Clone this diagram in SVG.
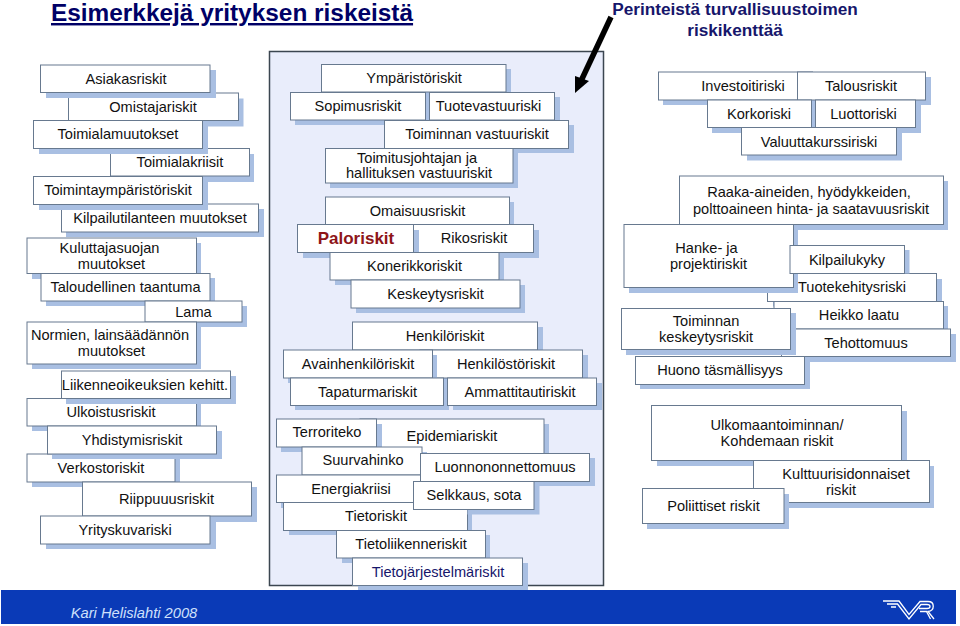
<svg xmlns="http://www.w3.org/2000/svg" width="960" height="626" viewBox="0 0 960 626">
<defs>
<g id="logo" fill="none" stroke="#fff" stroke-width="1.300">
<path d="M0,0.500 H16 L26,14 L37,1 H45 C52,1 52,10 45,11 L51,18.500"/>
<path d="M4,3.500 H14.500 L26,18.500 L38,4 H44 C48,4 48,8 44,8 H36"/>
<path d="M8,6.500 H13 M37,11 H43.500 L47.500,18.500"/>
</g>
</defs>
<style>
text{font-family:"Liberation Sans",Arial,sans-serif;font-size:14.600px;fill:#111;text-anchor:middle}
.s{fill:#a9bfe2}
.b{fill:#fff;stroke:#67798f;stroke-width:1}
.t{font-weight:bold;fill:#000066;font-size:24.400px;text-anchor:start;text-decoration:underline}
.h{font-weight:bold;fill:#16166b;font-size:17.200px}
</style>
<rect width="960" height="626" fill="#fff"/>
<text class="t" x="51" y="21">Esimerkkejä yrityksen riskeistä</text>
<text class="h" x="735" y="15">Perinteistä turvallisuustoimen</text>
<text class="h" x="735" y="36">riskikenttää</text>
<rect id="panel" x="269.500" y="51.500" width="334" height="534" fill="#e9edfb" stroke="#3b4650" stroke-width="1.500"/>
<g id="connectors"><path d="M611,17 L581,81" stroke="#000" stroke-width="5.500" fill="none"/><path d="M575,93 L575,76 L589,81 Z" fill="#000"/></g>
<rect id="footer" x="1" y="590" width="955" height="34" fill="#0a3ab7"/>
<text x="134" y="618" style="font-style:italic;fill:#cfe0fb;font-size:14.700px">Kari Helislahti 2008</text>
<use href="#logo" x="883" y="600.500"/>

<g id="n2"><rect class="s" x="73.500" y="98.500" width="170" height="28"/><rect class="b" x="68.500" y="93" width="170" height="27.500"/><text x="153" y="112">Omistajariskit</text></g>
<g id="n1"><rect class="s" x="46" y="70" width="170" height="28"/><rect class="b" x="40.500" y="65" width="169.500" height="27.500"/><text x="126" y="84">Asiakasriskit</text></g>
<g id="n4"><rect class="s" x="115" y="154" width="139" height="28"/><rect class="b" x="110.500" y="148.500" width="139" height="27.500"/><text x="180" y="167">Toimialakriisit</text></g>
<g id="n3"><rect class="s" x="39" y="126" width="169" height="28"/><rect class="b" x="33.500" y="120.500" width="169" height="28"/><text x="118" y="139">Toimialamuutokset</text></g>
<g id="n6"><rect class="s" x="66" y="209" width="198" height="28"/><rect class="b" x="61.500" y="204" width="197" height="28"/><text x="160" y="223">Kilpailutilanteen muutokset</text></g>
<g id="n5"><rect class="s" x="39" y="182" width="169" height="28"/><rect class="b" x="33.500" y="176.500" width="169" height="28"/><text x="118" y="195">Toimintaympäristöriskit</text></g>
<g id="n7"><rect class="s" x="32" y="243" width="169" height="36"/><rect class="b" x="27" y="238" width="169.500" height="35.500"/><text x="109.500" y="253">Kuluttajasuojan</text><text x="111.500" y="269">muutokset</text></g>
<g id="n8"><rect class="s" x="46" y="278" width="169" height="28"/><rect class="b" x="41" y="273.500" width="169" height="27.500"/><text x="125.500" y="292">Taloudellinen taantuma</text></g>
<g id="n9"><rect class="s" x="150" y="306" width="97" height="21"/><rect class="b" x="145" y="301" width="97" height="21"/><text x="193.500" y="317">Lama</text></g>
<g id="n10"><rect class="s" x="32" y="327" width="169" height="42"/><rect class="b" x="27" y="322" width="169.500" height="42"/><text x="110" y="340">Normien, lainsäädännön</text><text x="111.500" y="356">muutokset</text></g>
<g id="n12"><rect class="s" x="32" y="403" width="169" height="28"/><rect class="b" x="27" y="398.500" width="169.500" height="27.500"/><text x="111" y="417">Ulkoistusriskit</text></g>
<g id="n11"><rect class="s" x="66" y="376" width="170" height="28"/><rect class="b" x="61.500" y="371" width="169" height="27.500"/><text x="145" y="390">Liikenneoikeuksien kehitt.</text></g>
<g id="n14"><rect class="s" x="32" y="459" width="148" height="28"/><rect class="b" x="27" y="454" width="148" height="28"/><text x="101" y="473">Verkostoriskit</text></g>
<g id="n13"><rect class="s" x="52" y="431" width="170" height="28"/><rect class="b" x="47.500" y="426" width="169" height="28"/><text x="132" y="445">Yhdistymisriskit</text></g>
<g id="n15"><rect class="s" x="87" y="487" width="170" height="35"/><rect class="b" x="82.500" y="482" width="169" height="34"/><text x="166.500" y="504">Riippuuusriskit</text></g>
<g id="n16"><rect class="s" x="46" y="521" width="170" height="28"/><rect class="b" x="40.500" y="516" width="169.500" height="28"/><text x="125" y="535">Yrityskuvariski</text></g>

<g id="c1"><rect class="s" x="327" y="69" width="184" height="28"/><rect class="b" x="321.500" y="64.500" width="184.500" height="27.500"/><text x="414" y="83">Ympäristöriskit</text></g>
<g id="c2"><rect class="s" x="295" y="97" width="136" height="28"/><rect class="b" x="290.500" y="92.500" width="135" height="27.500"/><text x="358" y="111">Sopimusriskit</text></g>
<g id="c3"><rect class="s" x="434" y="97" width="126" height="28"/><rect class="b" x="429.500" y="92.500" width="125" height="27.500"/><text x="488.500" y="111">Tuotevastuuriski</text></g>
<g id="c4"><rect class="s" x="390" y="125" width="184" height="28"/><rect class="b" x="384.500" y="120.500" width="184" height="28"/><text x="477" y="139">Toiminnan vastuuriskit</text></g>
<g id="c5"><rect class="s" x="330" y="153" width="188" height="35"/><rect class="b" x="325.500" y="148.500" width="187.500" height="34.500"/><text x="417" y="163">Toimitusjohtajan ja</text><text x="419" y="178">hallituksen vastuuriskit</text></g>
<g id="c6"><rect class="s" x="330" y="202" width="184" height="28"/><rect class="b" x="325.500" y="197" width="184" height="27.500"/><text x="417.500" y="216">Omaisuusriskit</text></g>
<g id="c8"><rect class="s" x="419" y="230" width="120" height="28"/><rect class="b" x="413.500" y="224.500" width="120" height="28"/><text x="474" y="243">Rikosriskit</text></g>
<g id="c7"><rect class="s" x="303" y="230" width="116" height="28"/><rect class="b" x="297.500" y="224.500" width="116" height="28"/><text x="356" y="244" style="font-size:17px;font-weight:bold;fill:#8e1518">Paloriskit</text></g>
<g id="c9"><rect class="s" x="335" y="257" width="169" height="28"/><rect class="b" x="330" y="252.500" width="169" height="27.500"/><text x="414.500" y="271">Konerikkoriskit</text></g>
<g id="c10"><rect class="s" x="356" y="285" width="169" height="28"/><rect class="b" x="351" y="280" width="169" height="28"/><text x="435.500" y="299">Keskeytysriskit</text></g>
<g id="c11"><rect class="s" x="358" y="327" width="185" height="28"/><rect class="b" x="352.500" y="322" width="185" height="28"/><text x="445" y="341">Henkilöriskit</text></g>
<g id="c13"><rect class="s" x="425" y="355" width="163" height="28"/><rect class="b" x="420" y="350" width="162.500" height="28"/><text x="506" y="369">Henkilöstöriskit</text></g>
<g id="c12"><rect class="s" x="288" y="355" width="149" height="28"/><rect class="b" x="283.500" y="350" width="149" height="28"/><text x="358" y="369">Avainhenkilöriskit</text></g>
<g id="c14"><rect class="s" x="295" y="383" width="154" height="27"/><rect class="b" x="290.500" y="378" width="153" height="27.500"/><text x="367.500" y="397">Tapaturmariskit</text></g>
<g id="c15"><rect class="s" x="453" y="383" width="149" height="27"/><rect class="b" x="447.500" y="378" width="149" height="27.500"/><text x="520" y="397">Ammattitautiriskit</text></g>
<g id="c17"><rect class="s" x="365" y="424" width="184" height="34"/><rect class="b" x="360" y="419" width="184" height="34.500"/><text x="452" y="441">Epidemiariskit</text></g>
<g id="c16"><rect class="s" x="281" y="424" width="101" height="28"/><rect class="b" x="276.500" y="419" width="100" height="28"/><text x="327" y="437">Terroriteko</text></g>
<g id="c18"><rect class="s" x="307" y="452" width="120" height="28"/><rect class="b" x="302" y="447" width="120" height="28"/><text x="363" y="465">Suurvahinko</text></g>
<g id="c19"><rect class="s" x="281" y="480" width="145" height="28"/><rect class="b" x="276.500" y="475" width="145" height="27.500"/><text x="351" y="494">Energiakriisi</text></g>
<g id="c20"><rect class="s" x="426" y="458" width="169" height="28"/><rect class="b" x="420.500" y="453.500" width="169" height="28"/><text x="505" y="472">Luonnononnettomuus</text></g>
<g id="c22"><rect class="s" x="289" y="507" width="183" height="28"/><rect class="b" x="283.500" y="502.500" width="184" height="28"/><text x="376" y="521">Tietoriskit</text></g>
<g id="c21"><rect class="s" x="467.500" y="486" width="72" height="28.500"/><rect class="b" x="413.500" y="481.500" width="120.500" height="28"/><text x="474" y="500">Selkkaus, sota</text></g>
<g id="c23"><rect class="s" x="342" y="535" width="148" height="28"/><rect class="b" x="336.500" y="530.500" width="149" height="27.500"/><text x="411" y="549">Tietoliikenneriskit</text></g>
<g id="c24"><rect class="s" x="358" y="563" width="170" height="27"/><rect class="b" x="352.500" y="558" width="170" height="27.500"/><text x="438" y="577" style="fill:#16166b">Tietojärjestelmäriskit</text></g>

<g id="r1"><rect class="s" x="663" y="77" width="154" height="28"/><rect class="b" x="658.500" y="72" width="154" height="28"/><text x="743" y="91">Investoitiriski</text></g>
<g id="r2"><rect class="s" x="803" y="77" width="128" height="28"/><rect class="b" x="797.500" y="72" width="128" height="28"/><text x="861" y="91">Talousriskit</text></g>
<g id="r3"><rect class="s" x="712" y="105" width="104.500" height="28"/><rect class="b" x="707.500" y="100" width="104" height="27.500"/><text x="759" y="119">Korkoriski</text></g>
<g id="r4"><rect class="s" x="821" y="105" width="100" height="28"/><rect class="b" x="815.500" y="100" width="100" height="27.500"/><text x="863.500" y="119">Luottoriski</text></g>
<g id="r5"><rect class="s" x="747" y="133" width="155" height="27.500"/><rect class="b" x="741.500" y="127.500" width="155" height="27.500"/><text x="819" y="147">Valuuttakurssiriski</text></g>
<g id="r6"><rect class="s" x="684" y="181" width="264" height="49"/><rect class="b" x="679.500" y="176" width="264" height="48.500"/><text x="809" y="197">Raaka-aineiden, hyödykkeiden,</text><text x="811" y="213.500">polttoaineen hinta- ja saatavuusriskit</text></g>
<g id="r9"><rect class="s" x="773" y="279" width="169" height="27.500"/><rect class="b" x="767.500" y="273.500" width="169" height="28"/><text x="852" y="292">Tuotekehitysriski</text></g>
<g id="r7"><rect class="s" x="629" y="229" width="169" height="64"/><rect class="b" x="624" y="224.500" width="169.500" height="63"/><text x="706.500" y="253">Hanke- ja</text><text x="708.500" y="269">projektiriskit</text></g>
<g id="r8"><rect class="s" x="795" y="250" width="114.500" height="23.500"/><rect class="b" x="790" y="245.500" width="114.500" height="28"/><text x="847" y="265">Kilpailukyky</text></g>
<g id="r10"><rect class="s" x="779" y="306" width="169" height="28"/><rect class="b" x="774" y="301.500" width="169.500" height="27.500"/><text x="859" y="320">Heikko laatu</text></g>
<g id="r12"><rect class="s" x="787" y="334" width="169" height="28"/><rect class="b" x="781.500" y="329" width="169" height="27.500"/><text x="866" y="348">Tehottomuus</text></g>
<g id="r11"><rect class="s" x="626" y="313" width="170" height="42"/><rect class="b" x="621.500" y="308.500" width="169" height="41"/><text x="706" y="326">Toiminnan</text><text x="706" y="342">keskeytysriskit</text></g>
<g id="r13"><rect class="s" x="640" y="361" width="170" height="28"/><rect class="b" x="635.500" y="356.500" width="169" height="28"/><text x="720" y="375">Huono täsmällisyys</text></g>
<g id="r14"><rect class="s" x="657" y="411" width="250" height="55"/><rect class="b" x="651.500" y="405.500" width="250" height="55"/><text x="777" y="430">Ulkomaantoiminnan/</text><text x="777" y="446">Kohdemaan riskit</text></g>
<g id="r15"><rect class="s" x="758" y="466" width="176" height="42"/><rect class="b" x="753.500" y="460.500" width="176" height="42"/><text x="846" y="479">Kulttuurisidonnaiset</text><text x="841" y="495">riskit</text></g>
<g id="r16"><rect class="s" x="647" y="494" width="142" height="35"/><rect class="b" x="642.500" y="488.500" width="141.500" height="35"/><text x="713.500" y="511">Poliittiset riskit</text></g>
</svg>
